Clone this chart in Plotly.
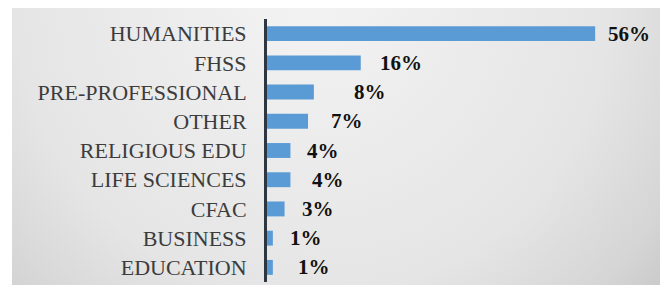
import base64
import plotly.graph_objects as go

categories = ["HUMANITIES", "FHSS", "PRE-PROFESSIONAL", "OTHER", "RELIGIOUS EDU",
              "LIFE SCIENCES", "CFAC", "BUSINESS", "EDUCATION"]
values = [56, 16, 8, 7, 4, 4, 3, 1, 1]
value_labels = ["56%", "16%", "8%", "7%", "4%", "4%", "3%", "1%", "1%"]
# label offsets (px) from the bar end, as placed in the original
label_shift = [11, 17, 38, 21, 15, 20, 15, 15, 23]

# the page body adds an 8px offset, so the figure is 8px smaller
OFF = 8
W, H = 668 - OFF, 285 - OFF
ML, MR, MT, MB = 267 - OFF, 10, 19 - OFF, 3
pw, ph = W - ML - MR, H - MT - MB
px_per_unit = 5.86
xmax = pw / px_per_unit

# gradient background (gray panel with white border at top/left)
gx0, gy0, gx1, gy1 = 12 - OFF, 8 - OFF, 664 - OFF, 285 - OFF
gw, gh = gx1 - gx0, gy1 - gy0
svg = f'''<svg xmlns="http://www.w3.org/2000/svg" width="{gw}" height="{gh}" viewBox="0 0 {gw} {gh}" preserveAspectRatio="none">
<defs><radialGradient id="g" gradientUnits="userSpaceOnUse" cx="300" cy="-10" r="480">
<stop offset="0" stop-color="#f3f3f3"/><stop offset="0.62" stop-color="#e5e5e5"/>
<stop offset="0.85" stop-color="#d5d5d5"/><stop offset="1" stop-color="#c4c4c4"/>
</radialGradient></defs><rect x="0" y="0" width="{gw}" height="{gh}" fill="url(#g)"/></svg>'''
src = "data:image/svg+xml;base64," + base64.b64encode(svg.encode()).decode()

fig = go.Figure()
fig.add_trace(go.Bar(
    x=values, y=categories, orientation="h",
    marker=dict(color="#5b9bd5", line=dict(width=0)),
    hoverinfo="skip",
))

for c, v, t, s in zip(categories, values, value_labels, label_shift):
    fig.add_annotation(x=v, y=c, text=t, showarrow=False, xanchor="left",
                       yanchor="middle", xshift=s,
                       font=dict(family="Liberation Serif", size=21, color="#111111",
                                 weight="bold"))

fig.add_layout_image(dict(
    source=src, xref="paper", yref="paper",
    x=(gx0 - ML) / pw, y=(H - MB - gy0) / ph,
    sizex=gw / pw, sizey=gh / ph,
    xanchor="left", yanchor="top", sizing="stretch", layer="below",
))

fig.update_layout(
    width=W, height=H,
    margin=dict(l=ML, r=MR, t=MT, b=MB, pad=0),
    paper_bgcolor="white", plot_bgcolor="rgba(0,0,0,0)",
    bargap=0.49, showlegend=False,
    xaxis=dict(range=[0, xmax], visible=False, fixedrange=True),
    yaxis=dict(autorange="reversed", showline=True, linecolor="#2e3642", linewidth=3,
               ticks="outside", ticklen=13, tickcolor="rgba(0,0,0,0)",
               showgrid=False, zeroline=False, fixedrange=True, automargin=False,
               tickfont=dict(family="Liberation Serif", size=22, color="#3c3c3c")),
)

fig.write_html("out.html")
